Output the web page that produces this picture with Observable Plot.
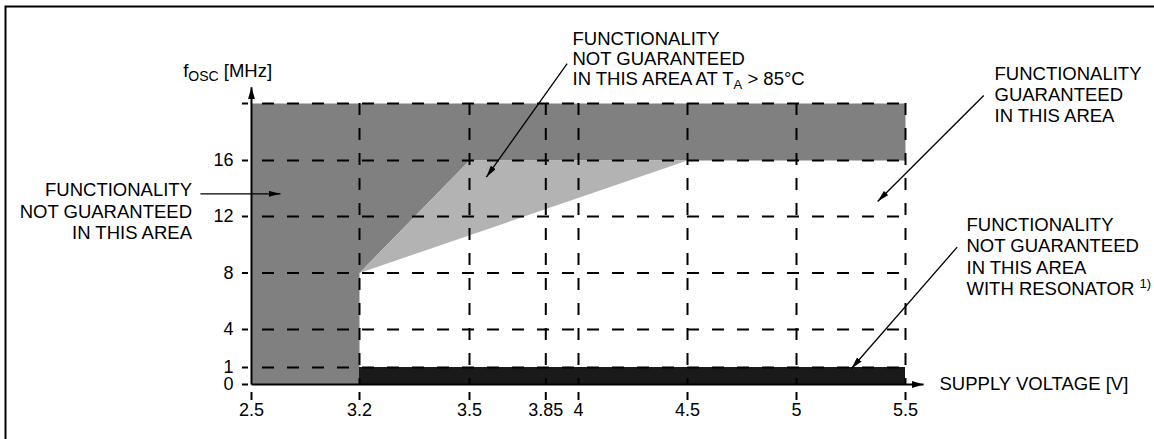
<!DOCTYPE html>
<html><head><meta charset="utf-8">
<script src="https://cdn.jsdelivr.net/npm/d3@7"></script>
<script src="https://cdn.jsdelivr.net/npm/@observablehq/plot@0.6"></script>
<style>html,body{margin:0;padding:0;background:#fff;overflow:hidden}</style>
</head><body><div id="chart"></div>
<script>
// ---- data ----
const xScaleBreaks = [2.5, 3.2, 3.5, 4, 4.5, 5, 5.5];   // supply voltage axis (piecewise)
const yScaleBreaks = [0, 1, 4, 8, 12, 16, 20];          // fOSC axis (piecewise)
const xTicks = [2.5, 3.2, 3.5, 3.85, 4, 4.5, 5, 5.5];
const xTickLabels = ["2.5", "3.2", "3.5", "3.85", "4", "4.5", "5", "5.5"];
const yTicks = [0, 1, 4, 8, 12, 16];
const yTickLabels = ["0", "1", "4", "8", "12", "16"];
const yTickMarks = [0, 1, 4, 8, 12, 16, 20];
const xGrid = [3.2, 3.5, 3.85, 4, 4.5, 5, 5.5];
const yGrid = [1, 4, 8, 12, 16, 20];
// region: functionality not guaranteed
const notGuaranteedV = [2.5, 3.2, 3.2, 3.5, 5.5, 5.5, 2.5];
const notGuaranteedF = [0, 0, 8, 16, 16, 20, 20];
// region: not guaranteed at TA > 85°C
const hotV = [3.2, 3.5, 4.5];
const hotF = [8, 16, 16];
// region: not guaranteed with resonator
const resonatorV = [3.2, 5.5];
const resonatorF = [0, 1];
// texts
const yLabel = "f_{OSC} [MHz]";
const xLabel = "SUPPLY VOLTAGE [V]";
const noteLeft = "FUNCTIONALITY\nNOT GUARANTEED\nIN THIS AREA";
const noteHot = "FUNCTIONALITY\nNOT GUARANTEED\nIN THIS AREA AT T_{A} > 85°C";
const noteOk = "FUNCTIONALITY\nGUARANTEED\nIN THIS AREA";
const noteRes = "FUNCTIONALITY\nNOT GUARANTEED\nIN THIS AREA\nWITH RESONATOR ^{1)}";

// ---- tables ----
const notGuaranteed = notGuaranteedV.map((v, i) => ({v, f: notGuaranteedF[i]}));
const hot = hotV.map((v, i) => ({v, f: hotF[i]}));
const resonator = [{v1: resonatorV[0], v2: resonatorV[1], f1: resonatorF[0], f2: resonatorF[1]}];
const xT = xTicks.map((v, i) => ({v, label: xTickLabels[i]}));
const yT = yTicks.map((f, i) => ({f, label: yTickLabels[i]}));

const FS = 18.5;
const dash = {stroke: "black", strokeWidth: 2, strokeDasharray: "12,13"};

const plot = Plot.plot({
  width: 1154, height: 439,
  marginLeft: 5, marginTop: 6, marginRight: 0, marginBottom: 0,
  style: {fontFamily: '"Liberation Sans", Arial, Helvetica, sans-serif', fontSize: "18px", background: "white", overflow: "hidden", color: "black"},
  x: {type: "linear", domain: xScaleBreaks, range: [251, 359, 469, 578, 687, 796, 905], axis: null},
  y: {type: "linear", domain: yScaleBreaks, range: [384, 367, 329, 272.5, 216, 160, 103], axis: null},
  marks: [
    Plot.frame({stroke: "black", strokeWidth: 2, insetRight: -20, insetBottom: -20}),
    Plot.line(notGuaranteed, {x: "v", y: "f", fill: "#808080", stroke: "none"}),
    Plot.line(hot, {x: "v", y: "f", fill: "#b3b3b3", stroke: "none"}),
    Plot.rect(resonator, {x1: "v1", x2: "v2", y1: "f1", y2: "f2", fill: "#1a1a1a"}),
    Plot.ruleY(yGrid, {y: d => d, x1: xScaleBreaks[0], x2: xScaleBreaks[xScaleBreaks.length - 1], ...dash, strokeDashoffset: 14}),
    Plot.ruleX(xGrid, {x: d => d, y1: yScaleBreaks[yScaleBreaks.length - 1], y2: yScaleBreaks[0], ...dash}),
    Plot.ruleX(xTicks, {x: d => d, y1: 0, y2: 0, insetTop: 8, insetBottom: -16, stroke: "black", strokeWidth: 2}),
    Plot.ruleY(yTickMarks, {y: d => d, x1: 2.5, x2: 2.5, insetLeft: -9, insetRight: 3, stroke: "black", strokeWidth: 2}),
    // axes with arrow heads
    Plot.link([0], {x1: 2.5, y1: 0, x2: 2.5, y2: 21.14, stroke: "black", strokeWidth: 2}),
    Plot.link([0], {x1: 2.5, y1: 0, x2: 5.583, y2: 0, stroke: "black", strokeWidth: 2}),
    // tick labels
    Plot.text(xT, {x: "v", y: 0, text: "label", dy: 19, lineAnchor: "top", textAnchor: "middle", fontSize: 18}),
    Plot.text(yT, {x: 2.5, y: "f", text: "label", dx: -18, textAnchor: "end", lineAnchor: "middle", fontSize: 18}),
    // axis titles
    Plot.text([yLabel], {text: d => d, frameAnchor: "top-left", dx: 177.7, dy: 57.3, textAnchor: "start", lineAnchor: "top", fontSize: FS}),
    Plot.text([xLabel], {text: d => d, frameAnchor: "top-left", dx: 934, dy: 370.7, textAnchor: "start", lineAnchor: "top", fontSize: FS}),
    // annotations
    Plot.text([noteLeft], {text: d => d, frameAnchor: "top-left", dx: 186.5, dy: 174, textAnchor: "end", lineAnchor: "top", lineHeight: 1.17, fontSize: FS}),
    Plot.text([noteHot], {text: d => d, frameAnchor: "top-left", dx: 567, dy: 24, textAnchor: "start", lineAnchor: "top", lineHeight: 1.08, fontSize: FS}),
    Plot.text([noteOk], {text: d => d, frameAnchor: "top-left", dx: 989, dy: 59, textAnchor: "start", lineAnchor: "top", lineHeight: 1.125, fontSize: FS}),
    Plot.text([noteRes], {text: d => d, frameAnchor: "top-left", dx: 961, dy: 209, textAnchor: "start", lineAnchor: "top", lineHeight: 1.16, fontSize: FS}),
    // annotation pointers
    Plot.link([
      {x1: 2.169, y1: 13.62, x2: 2.688, y2: 13.62},
      {x1: 3.948, y1: 22.79, x2: 3.577, y2: 14.81},
      {x1: 5.859, y1: 20.56, x2: 5.372, y2: 13.07},
      {x1: 5.737, y1: 9.83, x2: 5.252, y2: 0.94}
    ], {x1: "x1", y1: "y1", x2: "x2", y2: "y2", stroke: "black", strokeWidth: 1.3})
  ]
});

// arrow heads (filled)
const svg = d3.select(plot);
const defs = svg.insert("defs", ":first-child");
function head(id, len, wid) {
  defs.append("marker").attr("id", id).attr("viewBox", `0 0 ${len} ${wid}`)
    .attr("refX", len).attr("refY", wid / 2).attr("markerWidth", len).attr("markerHeight", wid)
    .attr("markerUnits", "userSpaceOnUse").attr("orient", "auto")
    .append("path").attr("d", `M0,0L${len},${wid / 2}L0,${wid}Z`).attr("fill", "black");
}
head("ahAxis", 12, 7);
head("ahPtr", 12, 6);
svg.selectAll('g[aria-label="link"]').each(function () {
  const w = +this.getAttribute("stroke-width");
  d3.select(this).selectAll("path").attr("marker-end", w >= 2 ? "url(#ahAxis)" : "url(#ahPtr)");
});

// sub/superscripts
const scriptStyle = {"_": {size: 14, shift: 4}, "^": {size: 13, shift: -7}};
const walker = document.createTreeWalker(plot, NodeFilter.SHOW_TEXT);
const nodes = [];
while (walker.nextNode()) if (/[_^]\{/.test(walker.currentNode.nodeValue)) nodes.push(walker.currentNode);
const NS = "http://www.w3.org/2000/svg";
for (const node of nodes) {
  const s = node.nodeValue;
  const frag = document.createDocumentFragment();
  const re = /([_^])\{([^}]*)\}/g;
  let last = 0, m, pending = 0;
  while ((m = re.exec(s))) {
    const before = s.slice(last, m.index);
    if (before) {
      if (pending) { const t = document.createElementNS(NS, "tspan"); t.setAttribute("dy", -pending); t.textContent = before; frag.appendChild(t); pending = 0; }
      else frag.appendChild(document.createTextNode(before));
    }
    const st = scriptStyle[m[1]];
    const sub = document.createElementNS(NS, "tspan");
    sub.setAttribute("font-size", m[2] === "A" ? 13 : st.size);
    sub.setAttribute("dy", st.shift - pending);
    sub.textContent = m[2];
    frag.appendChild(sub);
    pending = st.shift;
    last = re.lastIndex;
  }
  const rest = s.slice(last);
  if (rest) {
    if (pending) { const t = document.createElementNS(NS, "tspan"); t.setAttribute("dy", -pending); t.textContent = rest; frag.appendChild(t); }
    else frag.appendChild(document.createTextNode(rest));
  }
  node.parentNode.replaceChild(frag, node);
}

document.getElementById("chart").appendChild(plot);
</script>
</body></html>
